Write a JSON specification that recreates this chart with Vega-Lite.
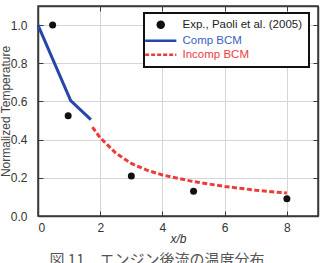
{
  "$schema": "https://vega.github.io/schema/vega-lite/v6.json",
  "width": 280,
  "height": 210,
  "autosize": {"type": "none"},
  "padding": {"left": 38, "top": 6, "right": 4, "bottom": 47},
  "title": {"text": "図 11　エンジン後流の温度分布", "orient": "bottom", "offset": 9, "fontSize": 15, "font": "Noto Sans CJK JP", "fontWeight": "normal", "color": "#555555", "anchor": "middle", "dx": -21},
  "config": {
    "view": {"stroke": "#3a3a3a", "strokeWidth": 1.5},
    "font": "Liberation Sans"
  },
  "data": {"values": [
    {"series": "Exp., Paoli et al. (2005)", "x": 0.47, "y": 1.0},
    {"series": "Exp., Paoli et al. (2005)", "x": 0.97, "y": 0.525},
    {"series": "Exp., Paoli et al. (2005)", "x": 3.0, "y": 0.21},
    {"series": "Exp., Paoli et al. (2005)", "x": 5.0, "y": 0.13},
    {"series": "Exp., Paoli et al. (2005)", "x": 8.0, "y": 0.09},
    {"series": "Comp BCM", "x": 0.0, "y": 1.0},
    {"series": "Comp BCM", "x": 1.05, "y": 0.605},
    {"series": "Comp BCM", "x": 1.7, "y": 0.505},
    {"series": "Incomp BCM", "x": 1.75, "y": 0.465},
    {"series": "Incomp BCM", "x": 2.0, "y": 0.41},
    {"series": "Incomp BCM", "x": 2.5, "y": 0.33},
    {"series": "Incomp BCM", "x": 3.0, "y": 0.275},
    {"series": "Incomp BCM", "x": 3.5, "y": 0.24},
    {"series": "Incomp BCM", "x": 4.0, "y": 0.215},
    {"series": "Incomp BCM", "x": 5.0, "y": 0.18},
    {"series": "Incomp BCM", "x": 6.0, "y": 0.155},
    {"series": "Incomp BCM", "x": 7.0, "y": 0.135},
    {"series": "Incomp BCM", "x": 8.0, "y": 0.12}
  ]},
  "layer": [
    {
      "transform": [{"filter": "datum.series === 'Comp BCM'"}],
      "mark": {"type": "line", "strokeWidth": 3},
      "encoding": {
        "x": {"field": "x", "type": "quantitative", "scale": {"domain": [0, 9], "nice": false},
          "axis": {"orient": "bottom", "values": [0, 2, 4, 6, 8], "grid": true, "gridColor": "#d6d6d6", "domainColor": "#3a3a3a", "domainWidth": 1.5, "tickColor": "#3a3a3a", "tickSize": -5, "labelFontSize": 12, "labelColor": "#333333", "labelPadding": 11, "title": "x/b", "titleFontStyle": "italic", "titleFontWeight": "normal", "titleFontSize": 12, "titleColor": "#333333", "titlePadding": 0}},
        "y": {"field": "y", "type": "quantitative", "scale": {"domain": [0, 1.1], "nice": false},
          "axis": {"orient": "left", "values": [0, 0.2, 0.4, 0.6, 0.8, 1.0], "format": ".1f", "grid": true, "gridColor": "#d6d6d6", "domainColor": "#3a3a3a", "domainWidth": 1.5, "tickColor": "#3a3a3a", "tickSize": -5, "labelFontSize": 12, "labelColor": "#333333", "labelPadding": 16, "title": "Normalized Temperature", "titleFontWeight": "normal", "titleFontSize": 12, "titleColor": "#444444", "titlePadding": -2}},
        "color": {"field": "series", "type": "nominal",
          "scale": {"domain": ["Exp., Paoli et al. (2005)", "Comp BCM", "Incomp BCM"], "range": ["#111111", "#2547a8", "#ec3b3b"]},
          "legend": {"title": null, "orient": "none", "legendX": 106, "legendY": 7, "fillColor": "white", "strokeColor": "#111111", "padding": 6, "rowPadding": 1, "labelFontSize": 11.5, "labelFont": "Liberation Sans", "symbolOffset": 5, "labelOffset": 16,
            "encode": {
              "legend": {"update": {"strokeWidth": {"value": 2}}},
              "symbols": {"update": {
                "shape": {"signal": "datum.label === 'Exp., Paoli et al. (2005)' ? 'circle' : 'M-3.9,0L3.9,0'"},
                "size": {"signal": "datum.label === 'Exp., Paoli et al. (2005)' ? 36 : 64"},
                "fill": {"signal": "datum.label === 'Exp., Paoli et al. (2005)' ? '#111111' : 'transparent'"},
                "stroke": {"signal": "datum.label === 'Comp BCM' ? '#2547a8' : (datum.label === 'Incomp BCM' ? '#ec3b3b' : 'transparent')"},
                "strokeWidth": {"value": 2.5},
                "strokeDash": {"signal": "datum.label === 'Incomp BCM' ? [4, 2] : [1, 0]"},
                "opacity": {"value": 1}
              }},
              "labels": {"update": {
                "fill": {"signal": "datum.label === 'Comp BCM' ? '#3a5fc0' : (datum.label === 'Incomp BCM' ? '#ec4040' : '#222222')"}
              }}
            }}}
      }
    },
    {
      "transform": [{"filter": "datum.series === 'Incomp BCM'"}],
      "mark": {"type": "line", "strokeWidth": 3, "strokeDash": [5, 2.5]},
      "encoding": {
        "x": {"field": "x", "type": "quantitative", "axis": null},
        "y": {"field": "y", "type": "quantitative", "axis": null},
        "color": {"field": "series", "type": "nominal"}
      }
    },
    {
      "transform": [{"filter": "datum.series === 'Exp., Paoli et al. (2005)'"}],
      "mark": {"type": "point", "filled": true, "opacity": 1, "size": 49},
      "encoding": {
        "x": {"field": "x", "type": "quantitative",
          "axis": {"orient": "top", "values": [0, 2, 4, 6, 8], "labels": false, "grid": false, "title": null, "domainColor": "#3a3a3a", "domainWidth": 1.5, "tickColor": "#3a3a3a", "tickSize": -5}},
        "y": {"field": "y", "type": "quantitative",
          "axis": {"orient": "right", "values": [0, 0.2, 0.4, 0.6, 0.8, 1.0], "labels": false, "grid": false, "title": null, "domainColor": "#3a3a3a", "domainWidth": 1.5, "tickColor": "#3a3a3a", "tickSize": -5}},
        "color": {"field": "series", "type": "nominal"}
      }
    }
  ],
  "resolve": {"axis": {"x": "independent", "y": "independent"}}
}
